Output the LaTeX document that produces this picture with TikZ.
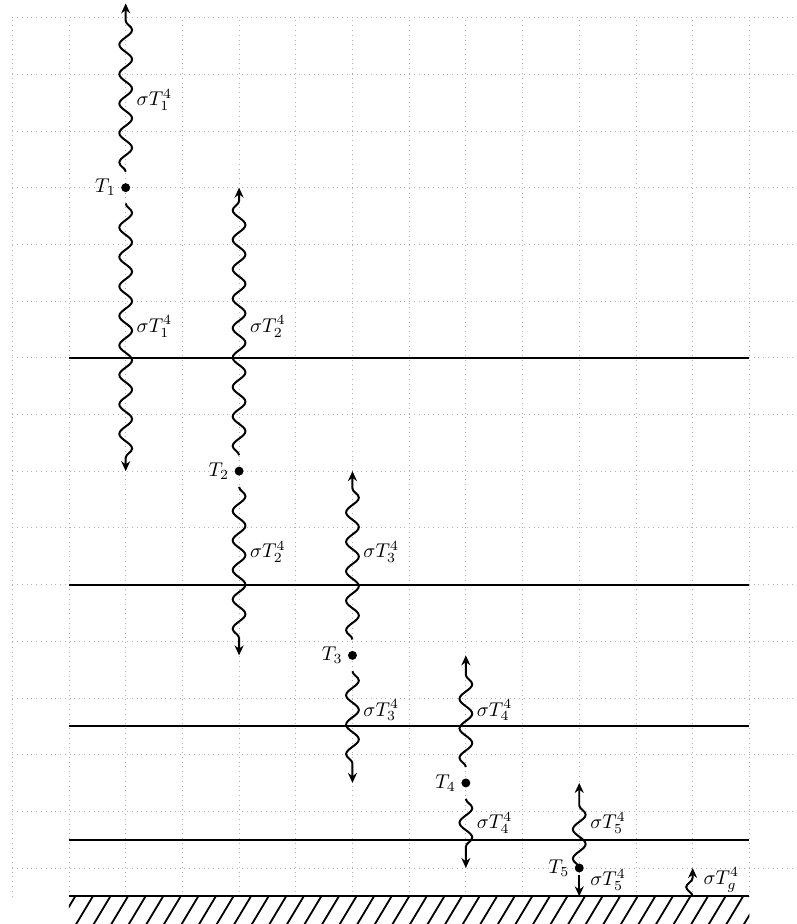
\documentclass[tikz,border=0pt]{standalone}
\usetikzlibrary{decorations.pathmorphing,arrows.meta}

\begin{document}
\begin{tikzpicture}[
        wave/.style={line width=1pt, -{Stealth[length=5pt,width=4.5pt]}, decorate,
            decoration={snake, amplitude=3.2pt, segment length=5.2mm,
                pre=moveto, pre length=#1, post length=1.5mm}},
        wave/.default=2.8mm,
        layer/.style={line width=1pt},
        dot/.style={circle, fill, inner sep=0pt, minimum size=4.5pt},
        flux/.style={anchor=west, xshift=2pt}
    ]
        \useasboundingbox (-1.217,-0.988) rectangle (12.84,15.31);
        \draw[gray!60, dotted] (-1,-0.5) grid (12.84,15);
        \foreach \y in {9,5,2.5,0.5,-0.5} {
            \draw[layer] (0,\y) -- (12,\y);
        }
        \begin{scope}
            \clip (0,-1) rectangle (12,-0.5);
            \foreach \x in {-0.5,-0.19,...,12.2} {
                \draw[line width=0.9pt] (\x,-1) -- ++(0.3,0.5);
            }
        \end{scope}

        \node[dot, label={[label distance=-1pt]left:$T_1$}] (T1) at (1,12) {};
        \node[dot, label={[label distance=-1pt]left:$T_2$}] (T2) at (3,7) {};
        \node[dot, label={[label distance=-1pt]left:$T_3$}] (T3) at (5,3.75) {};
        \node[dot, label={[label distance=-1pt]left:$T_4$}] (T4) at (7,1.5) {};
        \node[dot, label={[label distance=-1pt]left:$T_5$}] (T5) at (9,0) {};
        \coordinate (top) at (1,15.25);
        \coordinate (g) at (11,-0.5);

        \draw[wave] (T1.center) -- (top);
        \draw[wave] (T1.center) -- (T1 |- T2);
        \draw[wave] (T2.center) -- (T2 |- T1);
        \draw[wave] (T2.center) -- (T2 |- T3);
        \draw[wave] (T3.center) -- (T3 |- T2);
        \draw[wave] (T3.center) -- (T3 |- T4);
        \draw[wave] (T4.center) -- (T4 |- T3);
        \draw[wave] (T4.center) -- (T4 |- T5);
        \draw[wave=0mm] (T5.center) -- (T5 |- T4);
        \draw[wave=1.2mm] (T5.center) -- (T5 |- g);
        \draw[wave=0mm] (g) -- (g |- T5);

        \node[flux] (s1a) at (1,13.55) {$\sigma T_1^4$};
        \node[flux] (s1b) at (1,9.55) {$\sigma T_1^4$};
        \node[flux] (s2a) at (3,9.55) {$\sigma T_2^4$};
        \node[flux] (s2b) at (3,5.57) {$\sigma T_2^4$};
        \node[flux] (s3a) at (5,5.57) {$\sigma T_3^4$};
        \node[flux] (s3b) at (5,2.78) {$\sigma T_3^4$};
        \node[flux] (s4a) at (7,2.78) {$\sigma T_4^4$};
        \node[flux] (s4b) at (7,0.8) {$\sigma T_4^4$};
        \node[flux] (s5a) at (9,0.8) {$\sigma T_5^4$};
        \node[flux] (s5b) at (9,-0.21) {$\sigma T_5^4$};
        \node[flux] (sg) at (11,-0.21) {$\sigma T_g^4$};
    \end{tikzpicture}
\end{document}
